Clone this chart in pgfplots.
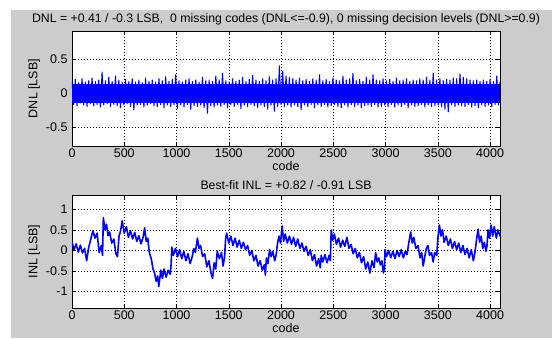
\documentclass[border=0pt]{standalone}
\usepackage{pgfplots}
\pgfplotsset{compat=1.18}
\usepackage{fontspec}
\setmainfont{Liberation Sans}
\definecolor{figgray}{RGB}{204,204,204}
\pgfplotsset{
  matstyle/.style={
    scale only axis,
    width=428pt,
    xmin=0, xmax=4095,
    xtick={0,500,1000,1500,2000,2500,3000,3500,4000},
    grid=major,
    major grid style={black, line width=0.5pt, dash pattern=on 1.2pt off 1.8pt},
    tick align=inside,
    major tick length=4pt,
    tick style={black, line width=0.5pt},
    axis line style={black, line width=0.6pt},
    axis background/.style={fill=white},
    font=\fontsize{12.5}{14}\selectfont,
    /pgf/number format/assume math mode=true,
    /pgf/number format/1000 sep={},
    scaled ticks=false,
    xticklabel style={yshift=1pt},
    yticklabel style={xshift=-1pt},
    title style={at={(0.5,1)}, anchor=south, yshift=-4pt, font=\fontsize{12.3}{14}\selectfont},
    xlabel style={yshift=3pt},
    ylabel style={yshift=-1pt},
  }
}
\begin{document}
\begin{tikzpicture}[x=1pt,y=1pt]
\useasboundingbox (0,0) rectangle (552,338);
\fill[white] (0,0) rectangle (552,338);
\fill[figgray] (11,0) rectangle (552,328);

\begin{axis}[matstyle,
  at={(72pt,192pt)}, anchor=south west,
  height=115pt,
  ymin=-0.78, ymax=0.92,
  ytick={-0.5,0,0.5},
  yticklabels={-0.5,0,0.5},
  title={DNL = +0.41 / -0.3 LSB,\ \ 0 missing codes (DNL<=-0.9), 0 missing decision levels (DNL>=0.9)},
  xlabel={code}, ylabel={DNL [LSB]}]
\addplot[fill=blue, draw=none] coordinates {(0,-0.14) (4095,-0.14) (4095,0.14) (0,0.14)} -- cycle;
\addplot[blue, line width=1.0pt, line join=bevel] table[row sep=\\] {
x y\\
0 0.18\\ 16 -0.17\\ 32 0.21\\ 48 -0.19\\ 64 0.16\\ 80 -0.15\\ 96 0.22\\ 112 -0.18\\ 128 0.17\\ 144 -0.2\\
160 0.19\\ 176 -0.16\\ 192 0.23\\ 208 -0.19\\ 224 0.18\\ 240 -0.17\\ 256 0.2\\ 272 -0.21\\ 288 0.32\\ 304 -0.18\\
320 0.19\\ 336 -0.16\\ 352 0.24\\ 368 -0.2\\ 384 0.18\\ 400 -0.17\\ 416 0.26\\ 432 -0.19\\ 448 0.2\\ 464 -0.22\\
480 0.17\\ 496 -0.18\\ 512 0.21\\ 528 -0.16\\ 544 0.18\\ 560 -0.2\\ 576 0.22\\ 592 -0.25\\ 608 0.17\\ 624 -0.18\\
640 0.2\\ 656 -0.17\\ 672 0.16\\ 688 -0.21\\ 704 0.23\\ 720 -0.18\\ 736 0.18\\ 752 -0.16\\ 768 0.2\\ 784 -0.19\\
800 0.17\\ 816 -0.2\\ 832 0.22\\ 848 -0.17\\ 864 0.19\\ 880 -0.22\\ 896 0.25\\ 912 -0.18\\ 928 0.18\\ 944 -0.2\\
960 0.21\\ 976 -0.17\\ 992 0.28\\ 1008 -0.23\\ 1024 0.19\\ 1040 -0.18\\ 1056 0.17\\ 1072 -0.21\\ 1088 0.2\\ 1104 -0.17\\
1120 0.22\\ 1136 -0.24\\ 1152 0.18\\ 1168 -0.19\\ 1184 0.2\\ 1200 -0.2\\ 1216 0.17\\ 1232 -0.18\\ 1248 0.24\\ 1264 -0.22\\
1280 0.19\\ 1296 -0.3\\ 1312 0.2\\ 1328 -0.19\\ 1344 0.18\\ 1360 -0.21\\ 1376 0.26\\ 1392 -0.18\\ 1408 0.2\\ 1424 -0.2\\
1440 0.3\\ 1456 -0.17\\ 1472 0.19\\ 1488 -0.22\\ 1504 0.17\\ 1520 -0.18\\ 1536 0.22\\ 1552 -0.2\\ 1568 0.18\\ 1584 -0.17\\
1600 0.2\\ 1616 -0.23\\ 1632 0.24\\ 1648 -0.18\\ 1664 0.18\\ 1680 -0.2\\ 1696 0.21\\ 1712 -0.17\\ 1728 0.27\\ 1744 -0.19\\
1760 0.2\\ 1776 -0.22\\ 1792 0.18\\ 1808 -0.18\\ 1824 0.22\\ 1840 -0.2\\ 1856 0.19\\ 1872 -0.24\\ 1888 0.25\\ 1904 -0.18\\
1920 0.2\\ 1936 -0.27\\ 1952 0.22\\ 1968 -0.2\\ 1984 0.41\\ 2000 -0.17\\ 2016 0.33\\ 2032 -0.2\\ 2048 0.26\\ 2064 -0.18\\
2080 0.24\\ 2096 -0.21\\ 2112 0.22\\ 2128 -0.18\\ 2144 0.2\\ 2160 -0.2\\ 2176 0.23\\ 2192 -0.25\\ 2208 0.19\\ 2224 -0.18\\
2240 0.21\\ 2256 -0.2\\ 2272 0.18\\ 2288 -0.17\\ 2304 0.22\\ 2320 -0.22\\ 2336 0.2\\ 2352 -0.18\\ 2368 0.28\\ 2384 -0.2\\
2400 0.19\\ 2416 -0.17\\ 2432 0.21\\ 2448 -0.21\\ 2464 0.18\\ 2480 -0.19\\ 2496 0.23\\ 2512 -0.17\\ 2528 0.2\\ 2544 -0.2\\
2560 0.19\\ 2576 -0.22\\ 2592 0.26\\ 2608 -0.18\\ 2624 0.2\\ 2640 -0.21\\ 2656 0.22\\ 2672 -0.17\\ 2688 0.3\\ 2704 -0.2\\
2720 0.19\\ 2736 -0.18\\ 2752 0.21\\ 2768 -0.22\\ 2784 0.18\\ 2800 -0.19\\ 2816 0.24\\ 2832 -0.18\\ 2848 0.2\\ 2864 -0.2\\
2880 0.28\\ 2896 -0.17\\ 2912 0.2\\ 2928 -0.21\\ 2944 0.19\\ 2960 -0.2\\ 2976 0.22\\ 2992 -0.18\\ 3008 0.19\\ 3024 -0.2\\
3040 0.21\\ 3056 -0.17\\ 3072 0.18\\ 3088 -0.21\\ 3104 0.23\\ 3120 -0.18\\ 3136 0.19\\ 3152 -0.2\\ 3168 0.2\\ 3184 -0.17\\
3200 0.22\\ 3216 -0.22\\ 3232 0.18\\ 3248 -0.18\\ 3264 0.2\\ 3280 -0.2\\ 3296 0.19\\ 3312 -0.19\\ 3328 0.22\\ 3344 -0.17\\
3360 0.2\\ 3376 -0.21\\ 3392 0.24\\ 3408 -0.18\\ 3424 0.2\\ 3440 -0.2\\ 3456 0.3\\ 3472 -0.19\\ 3488 0.2\\ 3504 -0.18\\
3520 0.22\\ 3536 -0.21\\ 3552 0.19\\ 3568 -0.24\\ 3584 0.21\\ 3600 -0.28\\ 3616 0.2\\ 3632 -0.18\\ 3648 0.23\\ 3664 -0.2\\
3680 0.22\\ 3696 -0.18\\ 3712 0.29\\ 3728 -0.19\\ 3744 0.24\\ 3760 -0.2\\ 3776 0.22\\ 3792 -0.17\\ 3808 0.2\\ 3824 -0.21\\
3840 0.19\\ 3856 -0.19\\ 3872 0.2\\ 3888 -0.22\\ 3904 0.18\\ 3920 -0.17\\ 3936 0.2\\ 3952 -0.2\\ 3968 0.18\\ 3984 -0.18\\
4000 0.21\\ 4016 -0.2\\ 4032 0.18\\ 4048 -0.17\\ 4064 0.26\\ 4080 -0.18\\ 4095 0.17\\
};
\end{axis}

\begin{axis}[matstyle,
  at={(72pt,30pt)}, anchor=south west,
  height=113pt,
  ymin=-1.4, ymax=1.35,
  ytick={-1,-0.5,0,0.5,1},
  yticklabels={-1,-0.5,0,0.5,1},
  title={Best-fit INL = +0.82 / -0.91 LSB},
  xlabel={code}, ylabel={INL [LSB]}]
\addplot[blue, line width=1.6pt, line join=round] coordinates {
(0,0.20) (20,0.02) (40,0.16) (60,-0.04) (80,0.13) (100,-0.06) (120,0.05) (140,-0.25) (160,0.08) (180,0.28)
(200,0.48) (220,0.30) (240,0.42) (260,-0.05) (280,0.12) (292,-0.12) (300,0.80) (315,0.50) (330,0.64) (345,0.36)
(360,0.45) (380,0.18) (400,0.28) (420,-0.08) (435,-0.15) (450,0.35) (465,0.48) (480,0.72) (500,0.42) (520,0.58)
(540,0.32) (560,0.48) (580,0.28) (600,0.44) (620,0.22) (640,0.36) (660,0.16) (680,0.32) (695,0.55) (710,0.22)
(725,0.30) (740,-0.05) (760,-0.22) (775,-0.45) (790,-0.55) (805,-0.75) (820,-0.62) (830,-0.88) (850,-0.48) (865,-0.68)
(880,-0.45) (900,-0.65) (920,-0.48) (940,-0.58) (948,-0.35) (955,0.08) (970,-0.12) (990,0.05) (1010,-0.15) (1030,0.02)
(1050,-0.20) (1070,-0.02) (1090,-0.25) (1110,-0.08) (1130,-0.32) (1150,-0.15) (1165,0.05) (1180,-0.05) (1200,0.30) (1215,0.05)
(1230,0.12) (1250,-0.15) (1270,-0.08) (1290,-0.40) (1310,-0.25) (1330,-0.55) (1345,-0.68) (1360,-0.30) (1375,-0.45) (1390,-0.02)
(1410,-0.20) (1430,-0.05) (1445,-0.38) (1460,-0.15) (1470,0.30) (1480,0.42) (1500,0.18) (1520,0.35) (1540,0.12) (1560,0.30)
(1580,0.08) (1600,0.25) (1620,0.05) (1640,0.20) (1660,0.02) (1680,0.12) (1700,-0.12) (1720,0.00) (1740,-0.25) (1760,-0.12)
(1780,-0.38) (1800,-0.25) (1820,-0.48) (1840,-0.35) (1850,-0.60) (1860,-0.18) (1875,-0.32) (1890,0.02) (1905,-0.15) (1920,-0.02)
(1940,-0.25) (1955,-0.08) (1965,0.15) (1980,0.35) (1995,0.18) (2010,0.60) (2025,0.22) (2040,0.40) (2060,0.18) (2080,0.35)
(2100,0.15) (2120,0.32) (2140,0.10) (2160,0.28) (2180,0.05) (2200,0.18) (2220,-0.02) (2240,0.10) (2260,-0.12) (2280,0.02)
(2300,-0.25) (2320,-0.10) (2340,-0.38) (2360,-0.20) (2375,-0.42) (2385,-0.12) (2400,-0.28) (2420,-0.10) (2440,-0.30) (2460,-0.12)
(2472,-0.25) (2480,0.50) (2495,0.25) (2510,0.40) (2530,0.15) (2550,0.30) (2570,0.08) (2590,0.25) (2610,0.10) (2630,0.32)
(2650,0.05) (2670,0.15) (2690,-0.08) (2710,0.05) (2730,-0.18) (2750,-0.05) (2770,-0.30) (2790,-0.15) (2810,-0.45) (2830,-0.28)
(2850,-0.55) (2870,-0.25) (2890,-0.42) (2905,-0.05) (2920,-0.28) (2935,-0.18) (2950,-0.35) (2965,-0.25) (2980,-0.55) (2990,-0.40)
(2995,0.02) (3010,-0.15) (3030,0.00) (3050,-0.18) (3070,-0.02) (3090,-0.20) (3110,0.00) (3130,-0.15) (3150,0.02) (3170,-0.18)
(3190,-0.02) (3205,-0.10) (3220,0.15) (3240,0.45) (3255,0.18) (3270,0.32) (3290,0.05) (3310,0.12) (3330,-0.18) (3345,-0.05)
(3360,-0.38) (3375,-0.15) (3390,0.05) (3405,0.12) (3420,-0.12) (3440,-0.05) (3455,-0.28) (3470,-0.05) (3490,-0.12) (3500,0.30)
(3515,0.62) (3530,0.35) (3545,0.50) (3560,0.20) (3580,0.35) (3600,0.12) (3620,0.28) (3640,0.05) (3660,0.22) (3680,0.02)
(3700,0.18) (3720,-0.05) (3740,0.12) (3760,-0.10) (3780,0.05) (3800,-0.18) (3820,0.02) (3840,-0.25) (3855,-0.05) (3870,0.25)
(3885,0.52) (3900,0.20) (3915,0.35) (3930,0.05) (3945,0.20) (3960,-0.02) (3970,0.10) (3980,0.50) (3995,0.30) (4010,0.62)
(4025,0.35) (4040,0.58) (4060,0.30) (4075,0.50) (4095,0.35)
};
\end{axis}
\end{tikzpicture}
\end{document}
